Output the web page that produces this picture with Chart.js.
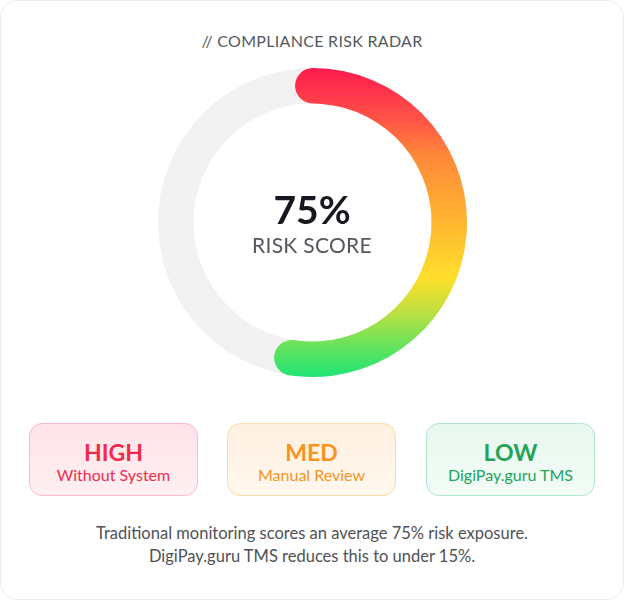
<!DOCTYPE html>
<html>
<head>
<meta charset="utf-8">
<script src="https://cdn.jsdelivr.net/npm/chart.js@4.4.1/dist/chart.umd.min.js"></script>
<style>
  html, body { margin: 0; padding: 0; background: #fff; }
  body { width: 624px; height: 600px; position: relative; font-family: 'Lato', 'Noto Sans', sans-serif; }
  .card {
    position: absolute; left: 0; top: 0; width: 622px; height: 598px;
    border: 1px solid #ececec; border-radius: 18px; background: #fff;
  }
  .title {
    position: absolute; left: 0; width: 624px; top: 31px; text-align: center;
    font-size: 16px; letter-spacing: 0.3px; color: #555860;
  }
  .gauge { position: absolute; left: 158px; top: 68px; width: 309px; height: 309px; }
  .center-val {
    position: absolute; left: 0; width: 624px; top: 186px; text-align: center;
    font-size: 39px; font-weight: 700; color: #17171f;
  }
  .center-lbl {
    position: absolute; left: 0; width: 624px; top: 232px; text-align: center;
    font-size: 21px; color: #55575e; letter-spacing: 0.3px;
  }
  .lvl {
    position: absolute; top: 423px; width: 167px; height: 71px;
    border-radius: 13px; border: 1.5px solid; text-align: center;
  }
  .lvl .big { font-size: 23px; font-weight: 700; margin-top: 14px; line-height: 28px; }
  .lvl .small { font-size: 16px; line-height: 18px; margin-top: 0; }
  .note {
    position: absolute; left: 0; width: 624px; top: 522px; text-align: center;
    font-size: 16.5px; line-height: 23px; color: #505258;
  }
</style>
</head>
<body>
<div class="card"></div>
<div class="title">// COMPLIANCE RISK RADAR</div>
<div class="gauge"><canvas id="gauge"></canvas></div>
<div class="center-val" id="val"></div>
<div class="center-lbl">RISK SCORE</div>
<div id="levels"></div>
<div class="note">Traditional monitoring scores an average 75% risk exposure.<br>DigiPay.guru TMS reduces this to under 15%.</div>

<script>
// Valores
const riskScore   = 75;                 // texto central
const arcShares   = [56.5, 43.5];       // arco colorido (com tampa arredondada) / resto
const gradStops   = [0, 0.17, 0.28, 0.44, 0.68, 0.78, 0.91, 1];
const gradColors  = ['#ff1a50', '#ff5546', '#ff873a', '#ffaa32', '#ffdf2b', '#c4e03e', '#5ee35e', '#1fe476'];

const levelNames  = ['HIGH', 'MED', 'LOW'];
const levelSubs   = ['Without System', 'Manual Review', 'DigiPay.guru TMS'];
const levelText   = ['#f22b4c', '#f7931e', '#23a35a'];
const levelBg     = ['linear-gradient(#ffe3e8,#fff0f2)', 'linear-gradient(#fff0e0,#fff8ef)', 'linear-gradient(#e8f8ef,#f3fcf7)'];
const levelBorder = ['#ffbac5', '#ffd9aa', '#aee8c9'];
const levelLeft   = [29, 227, 426];

document.getElementById('val').textContent = riskScore + '%';

document.getElementById('levels').innerHTML = levelNames.map((n, i) => `
  <div class="lvl" style="left:${levelLeft[i]}px;background:${levelBg[i]};border-color:${levelBorder[i]};color:${levelText[i]}">
    <div class="big">${n}</div>
    <div class="small">${levelSubs[i]}</div>
  </div>`).join('');

// Anel cinza por trás, usando a geometria do próprio arco
const trackRing = {
  id: 'trackRing',
  beforeDatasetsDraw(chart) {
    const arc = chart.getDatasetMeta(0).data[0];
    if (!arc) return;
    const { x, y, innerRadius, outerRadius } = arc.getProps(['x', 'y', 'innerRadius', 'outerRadius'], true);
    const ctx = chart.ctx;
    ctx.save();
    ctx.beginPath();
    ctx.arc(x, y, outerRadius, 0, Math.PI * 2);
    ctx.arc(x, y, innerRadius, Math.PI * 2, 0, true);
    ctx.closePath();
    ctx.fillStyle = '#f2f2f2';
    ctx.fill('evenodd');
    ctx.restore();
  }
};

// Gradiente vertical no arco, transparente no resto
function arcColor(context) {
  if (context.dataIndex !== 0) return 'rgba(0,0,0,0)';
  const { chart } = context;
  const area = chart.chartArea;
  if (!area) return gradColors[0];
  const g = chart.ctx.createLinearGradient(0, area.top, 0, area.bottom);
  gradStops.forEach((s, i) => g.addColorStop(s, gradColors[i]));
  return g;
}

new Chart(document.getElementById('gauge'), {
  type: 'doughnut',
  data: {
    labels: ['Risk', 'Rest'],
    datasets: [{
      data: arcShares,
      backgroundColor: arcColor,
      borderWidth: 0,
      borderRadius: ctx => ctx.dataIndex === 0 ? 18 : 0,
      hoverOffset: 0
    }]
  },
  options: {
    responsive: true,
    maintainAspectRatio: false,
    animation: false,
    cutout: '77%',
    rotation: -7.3,
    layout: { padding: 0 },
    events: [],
    plugins: { legend: { display: false }, tooltip: { enabled: false } }
  },
  plugins: [trackRing]
});
</script>
</body>
</html>
